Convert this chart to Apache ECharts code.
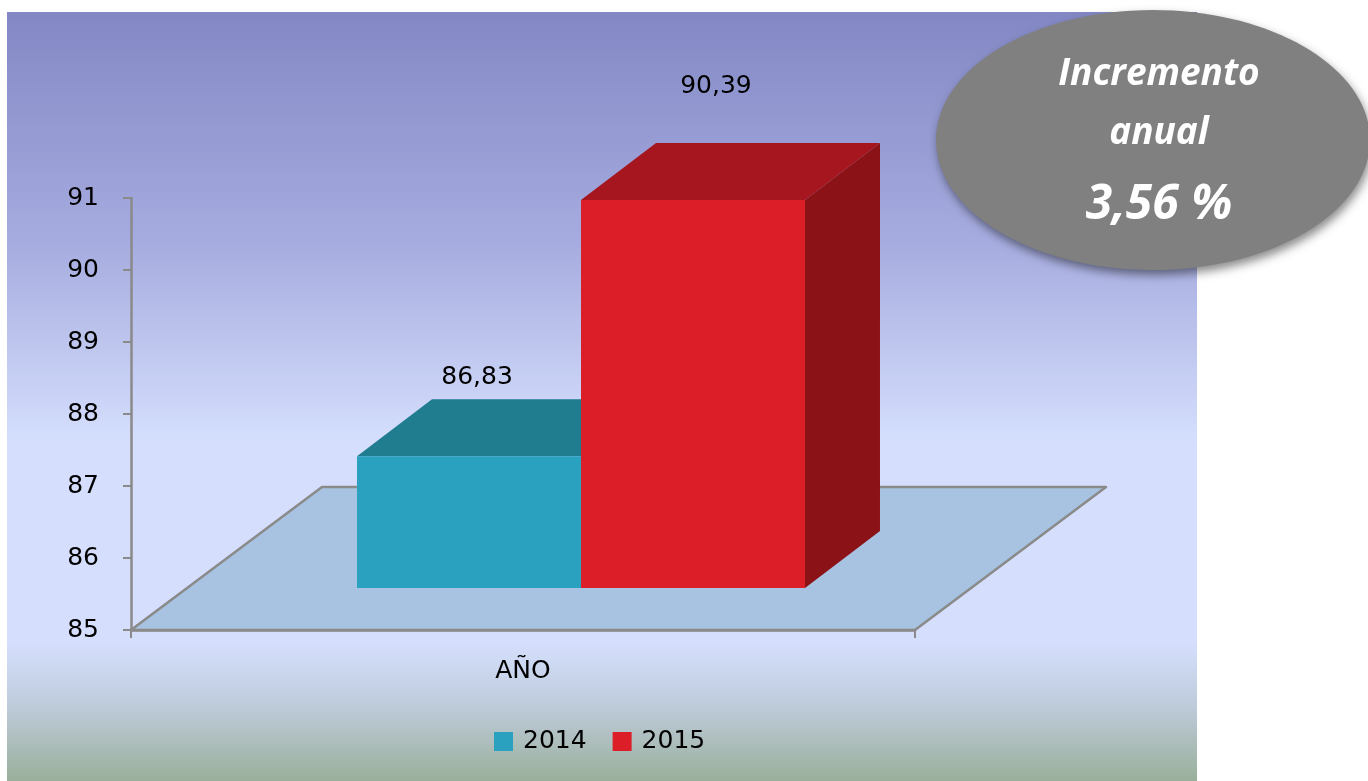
<!DOCTYPE html>
<html>
<head>
<meta charset="utf-8">
<script src="https://cdn.jsdelivr.net/npm/echarts@6/dist/echarts.min.js"></script>
<style>
html,body{margin:0;padding:0;background:#ffffff;}
#chart{width:1368px;height:781px;}
</style>
</head>
<body>
<div id="chart"></div>
<script>
// ---- data ----
const categories = ['AÑO'];
const seriesNames = ['2014', '2015'];
const values2014 = [86.83];
const values2015 = [90.39];
const yTicks = [85, 86, 87, 88, 89, 90, 91];
const badgeLines = ['Incremento', 'anual', '3,56 %'];

// ---- styles ----
const Y_MIN = 85, Y_MAX = 91;
const FONT = 'DejaVu Sans';
const barStyles = [
  { front: '#2ba1c0', top: '#207c8f', side: '#1b6677', ldx: 8, ldy: 22 },
  { front: '#dc1e28', top: '#a5161f', side: '#8b1318', ldx: 23, ldy: 56 }
];
const FLOOR_DX = 191, FLOOR_DY = -143;   // depth of floor
const FRONT_DX = 58, FRONT_DY = -42;     // bar front plane offset
const DEPTH_DX = 75, DEPTH_DY = -57;     // bar depth
const BAR_FRAC = 0.2857;

const chart = echarts.init(document.getElementById('chart'), null, { renderer: 'canvas' });

function fmt(v) { return v.toFixed(2).replace('.', ','); }

function renderFloor(params, api) {
  const base = api.coord([api.value(0), Y_MIN]);
  const bw = api.size([1, 0])[0];
  const l = base[0] - bw / 2, r = base[0] + bw / 2, y = base[1];
  return {
    type: 'polygon',
    shape: { points: [[l, y], [r, y], [r + FLOOR_DX, y + FLOOR_DY], [l + FLOOR_DX, y + FLOOR_DY]] },
    style: { fill: '#a8c3e1', stroke: '#8a8a8a', lineWidth: 2.5, lineJoin: 'round' }
  };
}

function makeBarRenderer(i) {
  return function (params, api) {
    const st = barStyles[i];
    const cat = api.value(0), val = api.value(1);
    const base = api.coord([cat, Y_MIN]);
    const top = api.coord([cat, val]);
    const bw = api.size([1, 0])[0];
    const w = bw * BAR_FRAC;
    const x0 = base[0] + FRONT_DX - w + i * w;
    const yb = base[1] + FRONT_DY;
    const yt = top[1] + FRONT_DY;
    return {
      type: 'group',
      children: [
        { type: 'polygon', shape: { points: [[x0 + w, yt], [x0 + w + DEPTH_DX, yt + DEPTH_DY], [x0 + w + DEPTH_DX, yb + DEPTH_DY], [x0 + w, yb]] },
          style: { fill: st.side } },
        { type: 'polygon', shape: { points: [[x0, yt], [x0 + w, yt], [x0 + w + DEPTH_DX, yt + DEPTH_DY], [x0 + DEPTH_DX, yt + DEPTH_DY]] },
          style: { fill: st.top } },
        { type: 'rect', shape: { x: x0, y: yt, width: w, height: yb - yt },
          style: { fill: st.front } },
        { type: 'text', x: x0 + w / 2 + st.ldx, y: yt + DEPTH_DY - st.ldy,
          style: { text: fmt(val), fill: '#000', font: '25px "' + FONT + '"', align: 'center', verticalAlign: 'middle' } }
      ]
    };
  };
}

const option = {
  animation: false,
  textStyle: { fontFamily: FONT },
  graphic: [
    {
      type: 'rect', z: -100, silent: true,
      shape: { x: 7, y: 12, width: 1190, height: 769 },
      style: {
        fill: new echarts.graphic.LinearGradient(0, 0, 0, 1, [
          { offset: 0, color: '#8388c5' },
          { offset: 0.3, color: '#a6acdf' },
          { offset: 0.56, color: '#d5dffd' },
          { offset: 0.82, color: '#d5dffd' },
          { offset: 0.9, color: '#bfccdc' },
          { offset: 1, color: '#9aaf9b' }
        ])
      }
    },
    {
      type: 'ellipse', z: 100, silent: true,
      shape: { cx: 1153, cy: 140, rx: 217, ry: 130 },
      style: { fill: '#808080', shadowBlur: 10, shadowOffsetX: 2, shadowOffsetY: 5, shadowColor: 'rgba(0,0,0,0.45)' }
    },
    { type: 'text', z: 101, silent: true, x: 1159, y: 74,
      style: { text: badgeLines[0], fill: '#fff', font: 'italic bold 37px "Open Sans"', align: 'center', verticalAlign: 'middle' } },
    { type: 'text', z: 101, silent: true, x: 1159, y: 133,
      style: { text: badgeLines[1], fill: '#fff', font: 'italic bold 37px "Open Sans"', align: 'center', verticalAlign: 'middle' } },
    { type: 'text', z: 101, silent: true, x: 1159, y: 205,
      style: { text: badgeLines[2], fill: '#fff', font: 'italic bold 48px "Open Sans"', align: 'center', verticalAlign: 'middle' } }
  ],
  grid: { left: 131, right: 453, top: 198, bottom: 151, containLabel: false },
  legend: {
    data: seriesNames,
    left: 489, top: 724,
    icon: 'rect', itemWidth: 19, itemHeight: 19, itemGap: 26,
    textStyle: { fontFamily: FONT, fontSize: 25, color: '#000', padding: [0, 0, 0, 5] }
  },
  xAxis: {
    type: 'category',
    data: categories,
    axisLine: { lineStyle: { color: '#8a8a8a', width: 2.5 } },
    axisTick: { show: true, length: 8, lineStyle: { color: '#8a8a8a', width: 2 } },
    axisLabel: { margin: 29, color: '#000', fontSize: 25, fontFamily: FONT },
    splitLine: { show: false }
  },
  yAxis: {
    type: 'value',
    min: Y_MIN, max: Y_MAX, interval: 1,
    axisLine: { show: true, lineStyle: { color: '#8a8a8a', width: 2.5 } },
    axisTick: { show: true, length: 8, lineStyle: { color: '#8a8a8a', width: 2 } },
    axisLabel: { margin: 32, color: '#000', fontSize: 25, fontFamily: FONT,
      formatter: function (v) { return yTicks.indexOf(v) >= 0 ? String(v) : ''; } },
    splitLine: { show: false }
  },
  series: [
    {
      name: 'floor', type: 'custom', z: 1, silent: true,
      renderItem: renderFloor,
      encode: { x: 0, y: 1 },
      data: categories.map(function (c) { return [c, Y_MIN]; })
    },
    {
      name: seriesNames[0], type: 'custom', z: 3,
      itemStyle: { color: barStyles[0].front },
      renderItem: makeBarRenderer(0),
      encode: { x: 0, y: 1 },
      data: categories.map(function (c, k) { return [c, values2014[k]]; })
    },
    {
      name: seriesNames[1], type: 'custom', z: 4,
      itemStyle: { color: barStyles[1].front },
      renderItem: makeBarRenderer(1),
      encode: { x: 0, y: 1 },
      data: categories.map(function (c, k) { return [c, values2015[k]]; })
    }
  ]
};
chart.setOption(option);
</script>
</body>
</html>
